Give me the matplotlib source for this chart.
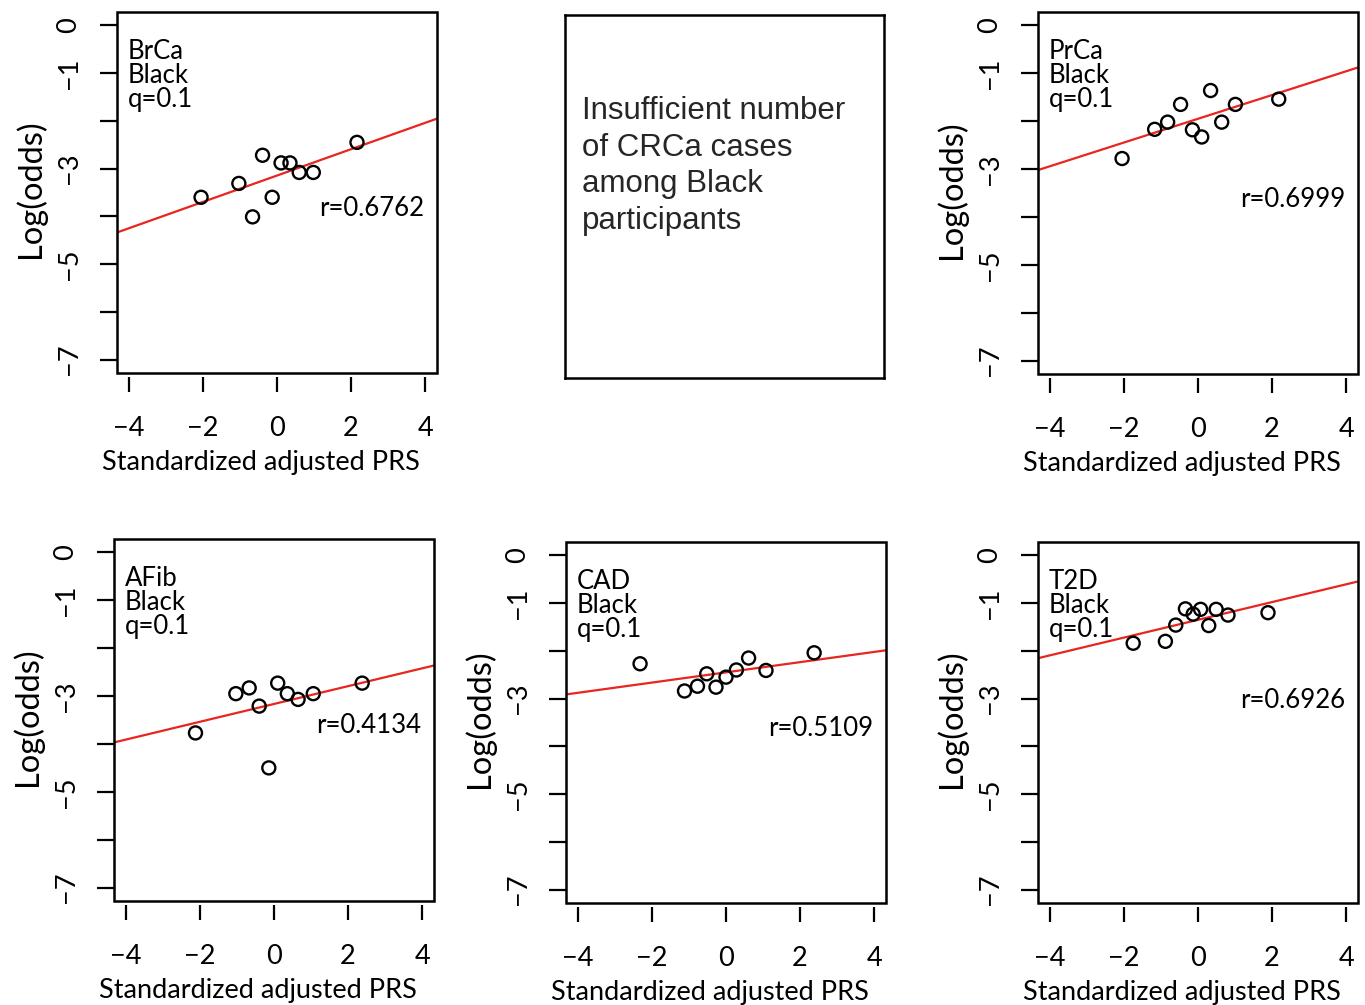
import numpy as np
import matplotlib
matplotlib.use("Agg")
import matplotlib.pyplot as plt
from matplotlib.patches import Rectangle

# ---- fonts -------------------------------------------------------------
plt.rcParams.update({
    "font.family": ["Lato", "DejaVu Sans"],
    "font.size": 19,
    "axes.unicode_minus": True,
})

# ---- data --------------------------------------------------------------
traits = ["BrCa", "PrCa", "AFib", "CAD", "T2D"]
group = "Black"
q_text = "q=0.1"

brca_x = [-2.05, -1.03, -0.39, -0.66, -0.13, 0.11, 0.35, 0.60, 0.98, 2.16]
brca_y = [-3.60, -3.31, -2.72, -4.01, -3.60, -2.88, -2.88, -3.08, -3.08, -2.45]

prca_x = [-2.05, -1.17, -0.82, -0.47, -0.15, 0.10, 0.34, 0.64, 1.01, 2.18]
prca_y = [-2.78, -2.17, -2.02, -1.65, -2.18, -2.33, -1.36, -2.02, -1.65, -1.54]

afib_x = [-2.12, -1.03, -0.67, -0.40, -0.14, 0.10, 0.36, 0.65, 1.06, 2.38]
afib_y = [-3.77, -2.95, -2.83, -3.21, -4.50, -2.73, -2.95, -3.07, -2.95, -2.73]

cad_x = [-2.32, -1.12, -0.77, -0.52, -0.27, 0.00, 0.28, 0.61, 1.08, 2.38]
cad_y = [-2.27, -2.84, -2.74, -2.48, -2.76, -2.55, -2.40, -2.15, -2.41, -2.04]

t2d_x = [-1.75, -0.88, -0.60, -0.34, -0.13, 0.07, 0.29, 0.49, 0.81, 1.89]
t2d_y = [-1.84, -1.80, -1.46, -1.12, -1.23, -1.13, -1.47, -1.13, -1.25, -1.20]

# fitted lines as drawn (intercept, slope)
fit_intercept = [-3.145, -1.95, -3.165, -2.45, -1.35]
fit_slope = [0.276, 0.248, 0.186, 0.107, 0.186]
r_values = ["0.6762", "0.6999", "0.4134", "0.5109", "0.6926"]

xs = [brca_x, prca_x, afib_x, cad_x, t2d_x]
ys = [brca_y, prca_y, afib_y, cad_y, t2d_y]

x_ticks = [-4, -2, 0, 2, 4]
y_ticks = [0, -1, -2, -3, -4, -5, -6, -7]
y_ticklabels = ["0", "\u22121", "", "\u22123", "", "\u22125", "", "\u22127"]

msg_lines = "Insufficient number\nof CRCa cases\namong Black\nparticipants"

# ---- layout ------------------------------------------------------------
W, H = 1365, 1005
def box(l, t, r, b):
    return [l / W, (H - b) / H, (r - l) / W, (b - t) / H]

panel_pos = [box(117, 12, 437, 373),     # BrCa
             box(1038, 12, 1358, 374),   # PrCa
             box(114, 539, 434, 901),    # AFib
             box(566, 542, 886, 903),    # CAD
             box(1038, 542, 1358, 903)]  # T2D
r_ypos = [-3.84, -3.63, -3.61, -3.63, -3.04]

fig = plt.figure(figsize=(W / 100, H / 100), dpi=100)

for i, name in enumerate(traits):
    ax = fig.add_axes(panel_pos[i])
    ax.set_xlim(-4.32, 4.32)
    ax.set_ylim(-7.28, 0.28)

    ax.scatter(xs[i], ys[i], s=88, facecolors="none", edgecolors="black",
               linewidths=1.7, zorder=3)
    ax.axline((0, fit_intercept[i]), slope=fit_slope[i], color="#e8251f",
              lw=1.6, zorder=2)

    for j, txt in enumerate([name, group, q_text]):
        ax.text(-4.02, -0.55 - 0.5 * j, txt, ha="left", va="center",
                fontsize=18.5)
    ax.text(3.98, r_ypos[i], f"r={r_values[i]}", ha="right", va="center",
            fontsize=18.5)

    # R style box + detached x ticks
    for s in ax.spines.values():
        s.set_visible(False)
    ax.spines["bottom"].set_position(("outward", 3))
    ax.add_patch(Rectangle((0, 0), 1, 1, transform=ax.transAxes, fill=False,
                           lw=1.8, ec="black", clip_on=False, zorder=5))

    ax.set_xticks(x_ticks)
    ax.set_xticklabels([f"{t}".replace("-", "\u2212") for t in x_ticks])
    ax.set_yticks(y_ticks)
    ax.set_yticklabels(y_ticklabels)
    ax.tick_params(axis="x", direction="out", length=11, width=1.6, pad=17,
                   labelsize=19.5)
    ax.tick_params(axis="y", direction="out", length=12.5, width=1.6, pad=13,
                   labelsize=19.5, labelrotation=90)
    for lab in ax.get_yticklabels():
        lab.set_va("center")
    ax.set_xlabel("Standardized adjusted PRS", fontsize=19.5)
    ax.xaxis.set_label_coords(0.45, -0.214)
    ax.set_ylabel("Log(odds)", fontsize=23.5)
    ax.yaxis.set_label_coords(-0.222, 0.51)

# CRCa placeholder panel
axm = fig.add_axes(box(565, 15, 884, 378))
axm.set_xticks([])
axm.set_yticks([])
for s in axm.spines.values():
    s.set_linewidth(1.8)
axm.text(0.053, 0.584, msg_lines, transform=axm.transAxes, ha="left",
         va="center", fontsize=22.5, family=["Liberation Sans", "DejaVu Sans"],
         color="#262626", linespacing=1.3)

fig.savefig("out.png", dpi=100)
